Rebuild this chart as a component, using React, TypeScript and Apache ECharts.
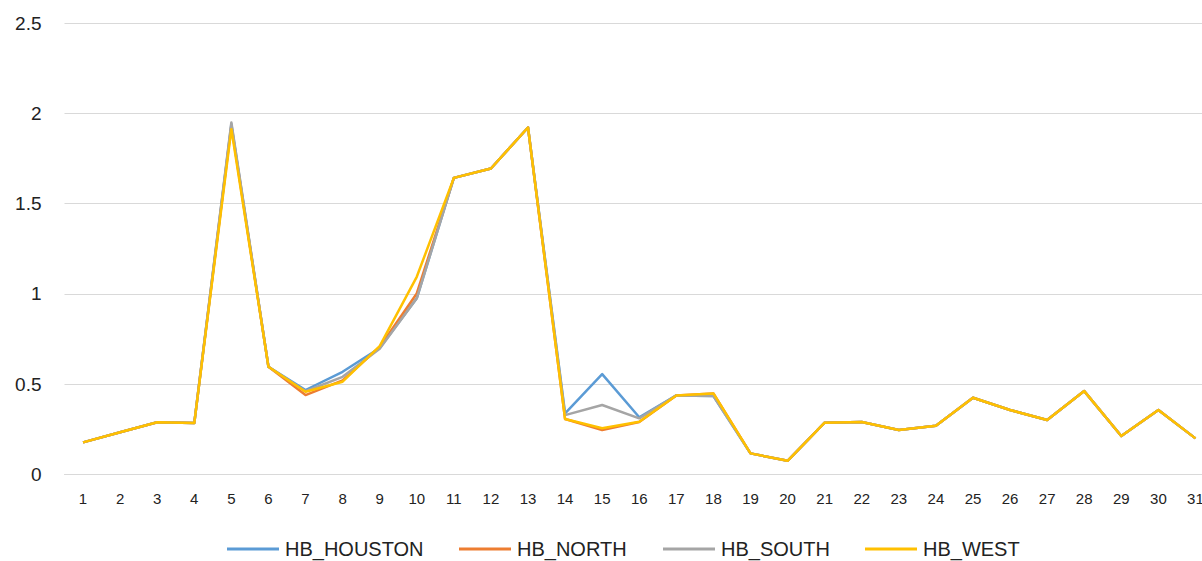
import React, { useEffect, useRef } from "react";
import * as echarts from "echarts";

const days = Array.from({ length: 31 }, (_, i) => String(i + 1));
const yTicks = [0, 0.5, 1, 1.5, 2, 2.5];

const houston = [0.177, 0.233, 0.288, 0.284, 1.94, 0.596, 0.467, 0.568, 0.7, 0.975, 1.642, 1.694, 1.921, 0.338, 0.555, 0.316, 0.437, 0.434, 0.116, 0.075, 0.286, 0.29, 0.245, 0.269, 0.424, 0.356, 0.301, 0.461, 0.212, 0.356, 0.199];
const north = [0.177, 0.233, 0.288, 0.284, 1.93, 0.596, 0.439, 0.52, 0.705, 1.002, 1.642, 1.694, 1.921, 0.306, 0.245, 0.29, 0.437, 0.448, 0.116, 0.075, 0.286, 0.29, 0.245, 0.269, 0.424, 0.356, 0.301, 0.461, 0.212, 0.356, 0.199];
const south = [0.177, 0.233, 0.288, 0.284, 1.949, 0.596, 0.46, 0.54, 0.695, 0.975, 1.642, 1.694, 1.921, 0.328, 0.384, 0.31, 0.437, 0.434, 0.116, 0.075, 0.286, 0.29, 0.245, 0.269, 0.424, 0.356, 0.301, 0.461, 0.212, 0.356, 0.199];
const west = [0.177, 0.233, 0.288, 0.284, 1.912, 0.596, 0.457, 0.513, 0.71, 1.094, 1.642, 1.694, 1.921, 0.306, 0.255, 0.291, 0.437, 0.448, 0.116, 0.075, 0.286, 0.29, 0.245, 0.269, 0.424, 0.356, 0.301, 0.461, 0.212, 0.356, 0.199];

const seriesNames = ["HB_HOUSTON", "HB_NORTH", "HB_SOUTH", "HB_WEST"];
const seriesData = [houston, north, south, west];
const colors = ["#5B9BD5", "#ED7D31", "#A5A5A5", "#FFC000"];
const legendLefts = [227, 459, 663, 865];

export default function App() {
  const ref = useRef<HTMLDivElement>(null);
  useEffect(() => {
    if (!ref.current) return;
    const chart = echarts.init(ref.current, null, { renderer: "svg" });
    const font = "'Liberation Sans', Arial, sans-serif";
    chart.setOption({
      animation: false,
      backgroundColor: "#ffffff",
      textStyle: { fontFamily: font },
      grid: { left: 64.5, right: 0, top: 23, bottom: 86.7, containLabel: false },
      legend: seriesNames.map((n, i) => ({
        data: [n],
        left: legendLefts[i],
        top: 539,
        padding: 0,
        icon: "rect",
        itemWidth: 52,
        itemHeight: 3,
        itemGap: 0,
        textStyle: { fontSize: 20, color: "#222", fontFamily: font, padding: [0, 0, 0, 1] },
      })),
      xAxis: {
        type: "category",
        data: days,
        boundaryGap: true,
        axisLine: { show: true, lineStyle: { color: "#D9D9D9", width: 1 } },
        axisTick: { show: false },
        axisLabel: { fontSize: 15, color: "#222", margin: 17, fontFamily: font, interval: 0 },
        splitLine: { show: false },
      },
      yAxis: {
        type: "value",
        min: yTicks[0],
        max: yTicks[yTicks.length - 1],
        interval: 0.5,
        axisLine: { show: false },
        axisTick: { show: false },
        axisLabel: { fontSize: 19, color: "#222", margin: 23, fontFamily: font },
        splitLine: { show: true, lineStyle: { color: "#D9D9D9", width: 1 } },
      },
      series: seriesNames.map((n, i) => ({
        name: n,
        type: "line",
        data: seriesData[i],
        symbol: "none",
        showSymbol: false,
        color: colors[i],
        lineStyle: { color: colors[i], width: 2.5, join: "round" },
        itemStyle: { color: colors[i] },
      })),
    });
    return () => chart.dispose();
  }, []);
  return (
    <div style={{ position: "fixed", left: 0, top: 0, width: 1202, height: 561, overflow: "hidden", background: "#fff" }}>
      <div ref={ref} style={{ position: "absolute", left: 0, top: 0, width: 1214, height: 561 }} />
    </div>
  );
}
